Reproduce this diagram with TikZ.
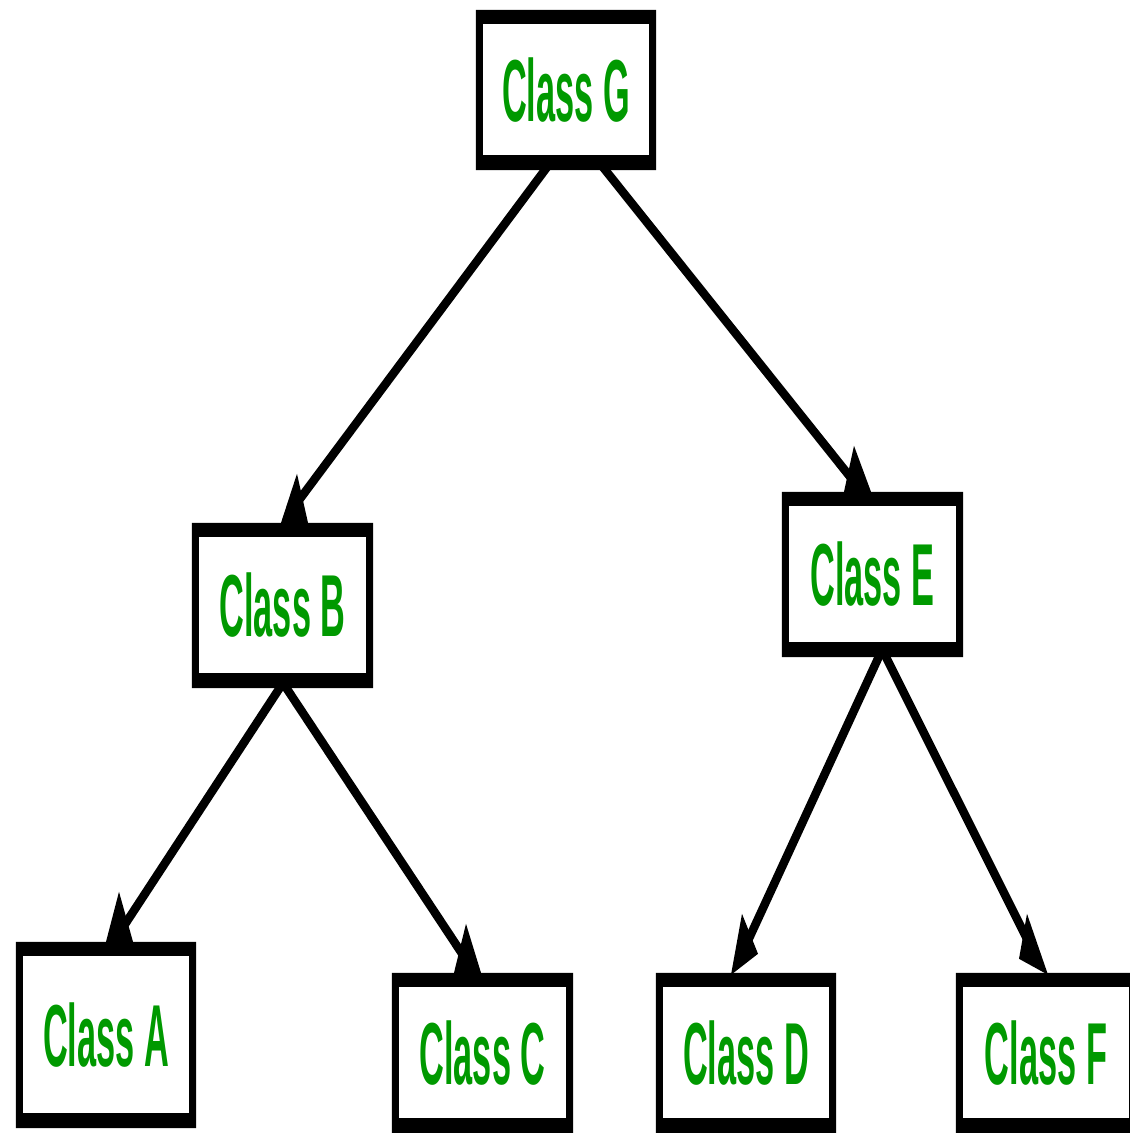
\documentclass[tikz,border=0pt]{standalone}
\usepackage{fontspec}
\setmainfont{Liberation Sans}
\usetikzlibrary{calc}
\definecolor{cgreen}{RGB}{0,153,0}
\tikzset{
  cbox/.style={inner sep=0pt, text=cgreen, font=\fontsize{88}{90}\selectfont\bfseries},
  conn/.style={line width=8.5pt, line cap=butt},
  head/.style={fill=black},
}
\newcommand\clabel[1]{\scalebox{0.39}[1]{#1}}
\newcommand\classframe[1]{\fill[even odd rule] (#1.north west) rectangle (#1.south east) ($(#1.north west)+(7,14)$) rectangle ($(#1.south east)+(-7,-15)$);}
\begin{document}
\begin{tikzpicture}[x=1pt,y=-1pt]
\useasboundingbox (0,0) rectangle (1130,1133);
\clip (0,0) rectangle (1130,1133);
\fill[white] (0,0) rectangle (1130,1133);
% nodes
\node[cbox, minimum width=180, minimum height=160] (G) at (566,90) {\clabel{Class G}};
\node[cbox, minimum width=181, minimum height=165] (B) at (282.5,605.5) {\clabel{Class B}};
\node[cbox, minimum width=181, minimum height=165] (E) at (872.5,574.5) {\clabel{Class E}};
\node[cbox, minimum width=180, minimum height=186] (A) at (106,1035) {\clabel{Class A}};
\node[cbox, minimum width=181, minimum height=160] (C) at (482.5,1053) {\clabel{Class C}};
\node[cbox, minimum width=180, minimum height=160] (D) at (746,1053) {\clabel{Class D}};
\node[cbox, minimum width=180, minimum height=160] (F) at (1046,1053) {\clabel{Class F}};
% frames
\classframe{G}
\classframe{B}
\classframe{E}
\classframe{A}
\classframe{C}
\classframe{D}
\classframe{F}
% connectors
\draw[conn] ($(G.south)+(-19,-3)$) -- ($(B.north)+(16,-22)$);
\fill[head] ($(B.north)+(14.5,-49)$) -- ($(B.north)+(-1.5,0)$) -- ($(B.north)+(25.5,0)$) -- cycle;
\draw[conn] ($(G.south)+(37,-3)$) -- ($(E.north)+(-20,-12)$);
\fill[head] ($(E.north)+(-18.5,-46)$) -- ($(E.north)+(-28.5,0)$) -- ($(E.north)+(-1.5,0)$) -- cycle;
\draw[conn] ($(B.south)+(-1,-3)$) -- ($(A.north)+(18,-16)$);
\fill[head] ($(A.north)+(13,-50)$) -- ($(A.north)+(0,0)$) -- ($(A.north)+(27,0)$) -- cycle;
\draw[conn] ($(B.south)+(2,-3)$) -- ($(C.north)+(-19,-17)$);
\fill[head] ($(C.north)+(-16.5,-49)$) -- ($(C.north)+(-28.5,0)$) -- ($(C.north)+(-1.5,0)$) -- cycle;
\draw[conn] ($(E.south)+(7.5,-3)$) -- ($(D.north)+(1,-30)$);
\fill[head] ($(D.north)+(-4,-59)$) -- ($(D.north)+(12,-19)$) -- ($(D.north)+(-15,2)$) -- cycle;
\draw[conn] ($(E.south)+(12,-3)$) -- ($(F.north)+(-17,-30)$);
\fill[head] ($(F.north)+(-19,-59)$) -- ($(F.north)+(-27,-14)$) -- ($(F.north)+(2,2)$) -- cycle;
\end{tikzpicture}
\end{document}
